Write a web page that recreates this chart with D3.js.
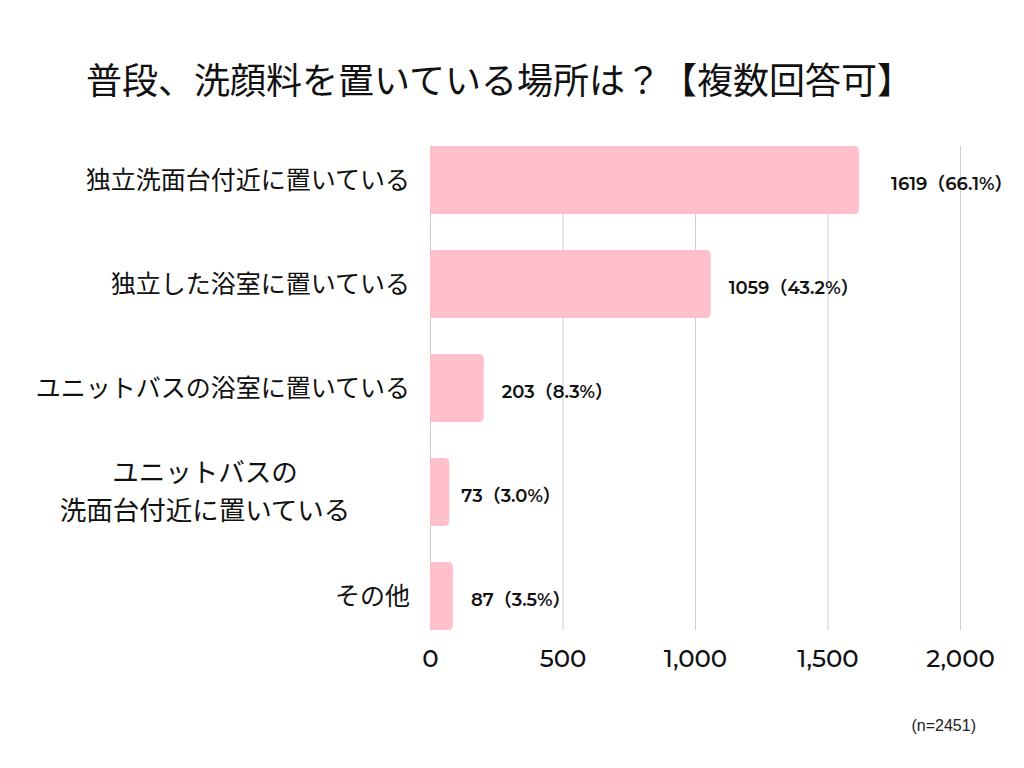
<!DOCTYPE html>
<html><head><meta charset="utf-8">
<script src="https://cdn.jsdelivr.net/npm/d3@7"></script>
<style>body{margin:0;background:#fff}</style>
</head><body>
<svg id="c" width="1024" height="768"></svg>
<script>
const title = "普段、洗顔料を置いている場所は？【複数回答可】";
const categories = [
  ["独立洗面台付近に置いている"],
  ["独立した浴室に置いている"],
  ["ユニットバスの浴室に置いている"],
  ["ユニットバスの", "洗面台付近に置いている"],
  ["その他"]
];
const values = [1619, 1059, 203, 73, 87];
const percents = ["66.1%", "43.2%", "8.3%", "3.0%", "3.5%"];
const ticks = [0, 500, 1000, 1500, 2000];
const note = "(n=2451)";

(function () {
const svg = d3.select("#c");
const jp = "'Noto Sans CJK JP','Noto Sans',sans-serif";
const num = "Montserrat,'Open Sans','Noto Sans CJK JP',sans-serif";

const x = d3.scaleLinear().domain([0, 2000]).range([430, 960]);
const y = d3.scaleBand().domain(d3.range(categories.length)).range([128, 648])
  .paddingInner(0.346).paddingOuter(0.173);

svg.append("text").attr("x", 86).attr("y", 94).text(title)
  .attr("font-family", jp).attr("font-size", 36).attr("fill", "#111");

const yTop = y(0), yBot = y(categories.length - 1) + y.bandwidth();
svg.append("g").selectAll("line").data(ticks).join("line")
  .attr("x1", d => x(d) + 0.5).attr("x2", d => x(d) + 0.5)
  .attr("y1", yTop).attr("y2", yBot)
  .attr("stroke", "#cccccc").attr("stroke-width", 1);

const r = 5;
svg.append("g").selectAll("path").data(values).join("path")
  .attr("d", (d, i) => {
    const x0 = x(0), x1 = x(d), y0 = y(i), h = y.bandwidth();
    return `M${x0},${y0}H${x1 - r}Q${x1},${y0} ${x1},${y0 + r}V${y0 + h - r}Q${x1},${y0 + h} ${x1 - r},${y0 + h}H${x0}Z`;
  })
  .attr("fill", "#FFBFCB");

svg.append("g").selectAll("text").data(values).join("text")
  .attr("x", (d, i) => x(d) + (i === 0 ? 32 : (i === 3 ? 12 : 18)))
  .attr("y", (d, i) => y(i) + y.bandwidth() / 2 + 10)
  .attr("font-family", num).attr("font-size", 18).attr("font-weight", 600)
  .attr("fill", "#111")
  .text((d, i) => `${d}（${percents[i]}）`);

const cg = svg.append("g");
categories.forEach((lines, i) => {
  const cy = y(i) + y.bandwidth() / 2;
  const t = cg.append("text").attr("font-family", jp).attr("fill", "#111");
  if (lines.length === 1) {
    t.attr("font-size", 25).attr("x", 410).attr("y", cy + 9).attr("text-anchor", "end").text(lines[0]);
  } else {
    t.attr("font-size", 26.5).attr("text-anchor", "middle");
    lines.forEach((l, k) => {
      t.append("tspan").attr("x", 205).attr("y", cy + 9 + (k - (lines.length - 1) / 2) * 38).text(l);
    });
  }
});

const ax = svg.append("g").attr("transform", `translate(0,${yBot + 37})`)
  .call(d3.axisBottom(x).tickValues(ticks).tickFormat(d3.format(",")).tickSize(0).tickPadding(0));
ax.select(".domain").remove();
ax.selectAll("text").attr("dy", null).attr("y", 0)
  .attr("font-family", num).attr("font-size", 24.5).attr("fill", "#111").attr("font-weight", 500);

svg.append("text").attr("x", 976).attr("y", 731).attr("text-anchor", "end")
  .attr("font-family", "'Liberation Sans','Noto Sans CJK JP',sans-serif").attr("font-size", 16).attr("fill", "#222")
  .text(note);
})();
</script>
</body></html>
